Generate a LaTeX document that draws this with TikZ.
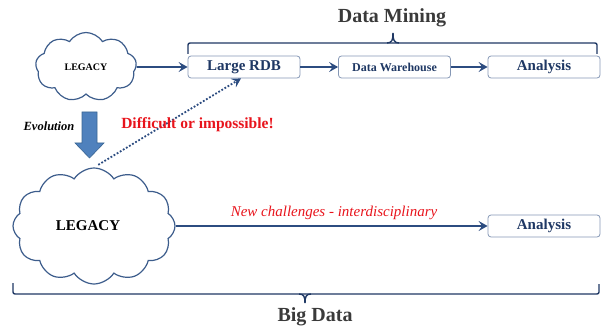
\documentclass[tikz,border=0pt]{standalone}
\usepackage{fontspec}
\setmainfont{Liberation Serif}
\usetikzlibrary{shapes.symbols,arrows.meta}
\definecolor{navy}{HTML}{1F3864}
\definecolor{arrowblue}{HTML}{2C4C80}
\definecolor{boxedge}{HTML}{8597B5}
\definecolor{cloudedge}{HTML}{3D5D8C}
\definecolor{blockfill}{HTML}{4F81BD}
\definecolor{blockedge}{HTML}{3A6694}
\definecolor{titlegray}{HTML}{3A3A3A}
\definecolor{redtext}{HTML}{E8141C}
\begin{document}
\begin{tikzpicture}[x=1pt,y=-1pt,
 stagebox/.style={draw=boxedge, line width=0.8pt, rounded corners=3pt, minimum width=112pt, minimum height=22pt, inner sep=0pt, text=navy},
 flow/.style={draw=arrowblue, line width=1.6pt, -{Stealth[length=9pt,width=10pt,inset=3.5pt]}},
 legacy/.style={cloud, cloud ignores aspect, draw=cloudedge, line width=1.2pt, fill=white, inner sep=0pt, cloud puff arc=115},
 brace/.style={draw=navy, line width=1.4pt, rounded corners=2pt}
]
\useasboundingbox (0,0) rectangle (605,326);

% clouds
\node[legacy, cloud puffs=9, minimum width=101pt, minimum height=69pt] (cloudA) at (86,67) {\bfseries\fontsize{10}{12}\selectfont LEGACY};
\node[legacy, cloud puffs=12, minimum width=162pt, minimum height=116pt] (cloudB) at (94,226) {\bfseries\fontsize{15}{18}\selectfont LEGACY\hspace*{12pt}};

% boxes
\node[stagebox, font=\bfseries\fontsize{15}{18}\selectfont] (rdb) at (244,67) {Large RDB};
\node[stagebox, font=\bfseries\fontsize{12}{14}\selectfont] (dw) at (394.5,67) {Data Warehouse};
\node[stagebox, font=\bfseries\fontsize{15}{18}\selectfont] (an1) at (544,67) {Analysis};
\node[stagebox, font=\bfseries\fontsize{15}{18}\selectfont] (an2) at (544,226) {Analysis};

% connectors
\draw[flow] (cloudA.east) -- (rdb.west);
\draw[flow] (rdb.east) -- (dw.west);
\draw[flow] (dw.east) -- (an1.west);
\draw[flow] (cloudB.east) -- (an2.west);
\draw[draw=arrowblue, line width=1.8pt, dash pattern=on 1.8pt off 1.8pt, -{Stealth[length=9pt,width=10pt,inset=3.5pt]}, shorten <=5pt] (cloudB.north) -- ([xshift=-3pt]rdb.south);

% labels
\node[text=redtext, font=\itshape\fontsize{15}{17}\selectfont] (newch) at (334,213) {New challenges - interdisciplinary};
\node[text=redtext, font=\bfseries\fontsize{15.5}{18}\selectfont] (diff) at (197.5,125) {Difficult or impossible!};
\node[font=\bfseries\itshape\fontsize{12.5}{14}\selectfont] (evo) at (49,126) {Evolution};

% block arrow
\filldraw[fill=blockfill, draw=blockedge, line width=0.6pt] (82,112) -- (97,112) -- (97,143) -- (104,143) -- (89.5,158) -- (75,143) -- (82,143) -- cycle;

% braces
\draw[brace] (188,54) -- (188,43) -- (597,43) -- (597,54);
\draw[draw=navy, line width=1.4pt] (387,43) .. controls (392,43) and (393,40) .. (393,33);
\draw[draw=navy, line width=1.4pt] (399,43) .. controls (394,43) and (393,40) .. (393,33);
\node[text=titlegray, font=\bfseries\fontsize{20}{24}\selectfont, anchor=base] (dm) at (392,23) {Data Mining};

\draw[brace] (13,283) -- (13,294) -- (599,294) -- (599,284);
\draw[draw=navy, line width=1.4pt] (299,294) .. controls (304,294) and (305,297) .. (305,303);
\draw[draw=navy, line width=1.4pt] (311,294) .. controls (306,294) and (305,297) .. (305,303);
\node[text=titlegray, font=\bfseries\fontsize{20}{24}\selectfont, anchor=base] (bd) at (315,321) {Big Data};
\end{tikzpicture}
\end{document}
